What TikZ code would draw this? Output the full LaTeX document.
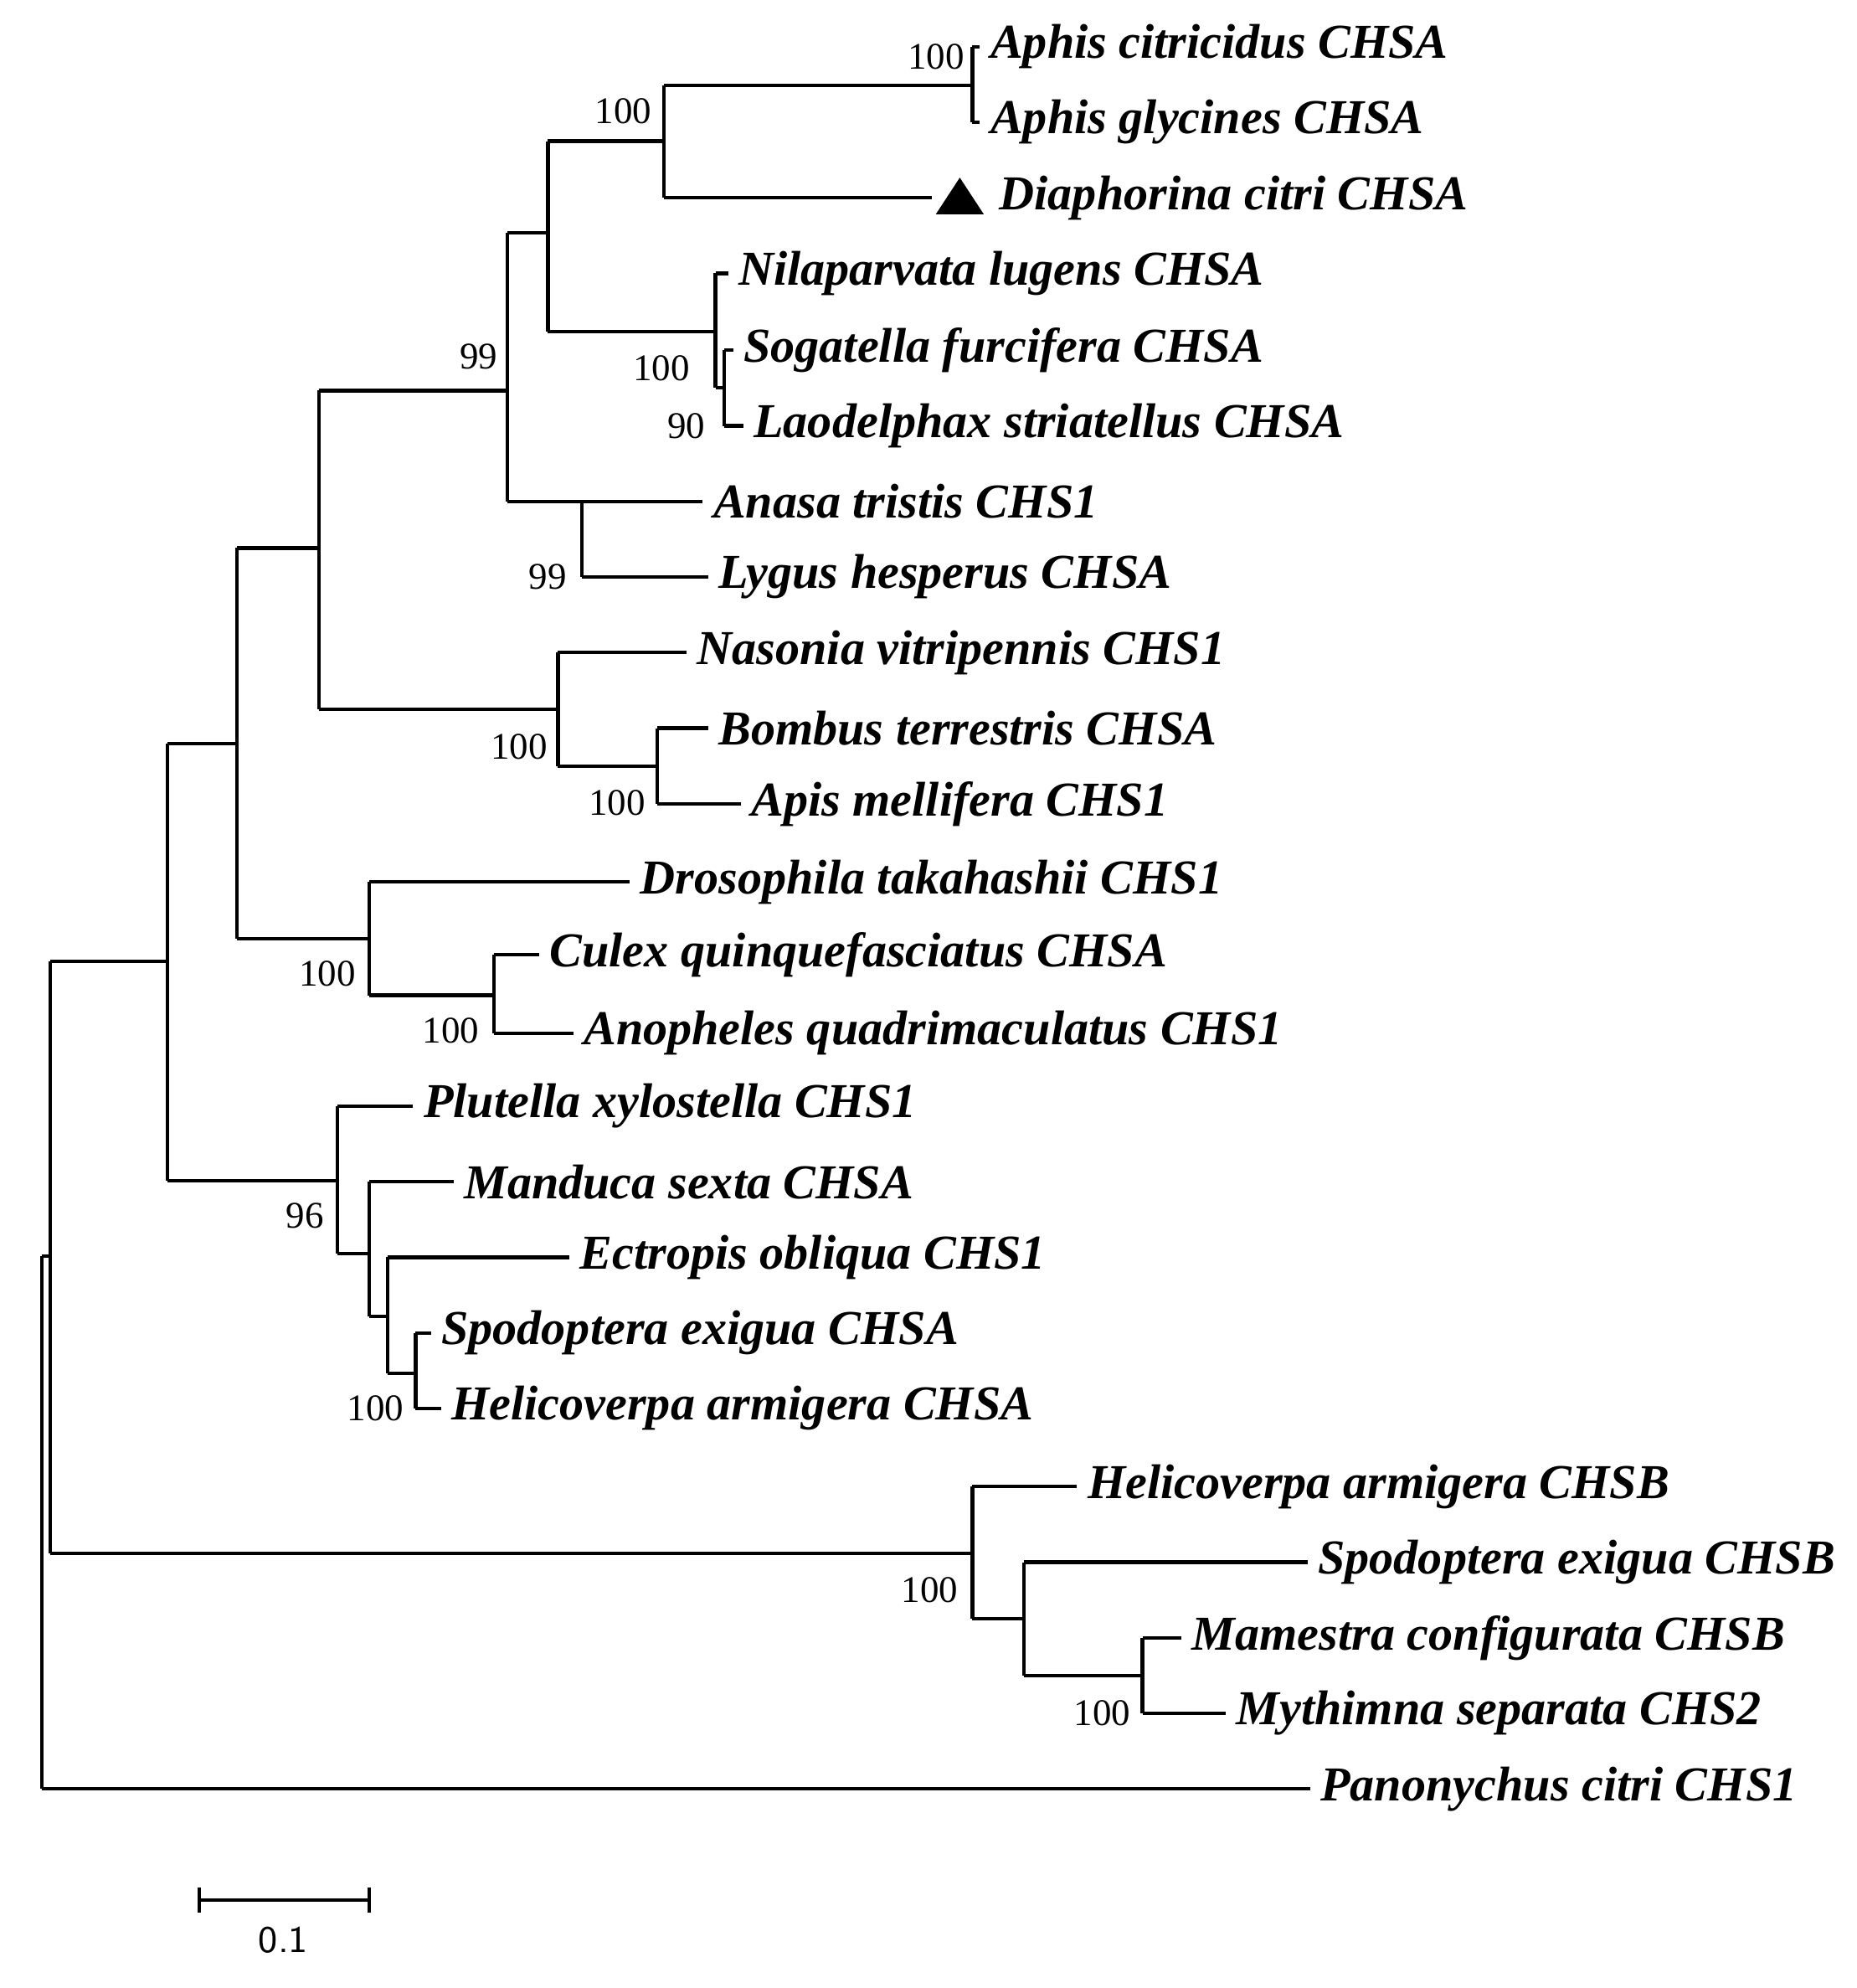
\documentclass[tikz,border=0pt]{standalone}
\usepackage{fontspec}
\setmainfont{Liberation Serif}
\begin{document}
\begin{tikzpicture}[x=0.01cm,y=-0.01cm,line width=0.8pt,
 lf/.style={anchor=west,inner sep=2pt,font=\fontsize{11}{12}\selectfont\bfseries\itshape},
 bs/.style={font=\fontsize{8.5}{10}\selectfont,inner sep=1pt}]
\useasboundingbox (0,0) rectangle (1474,1578);
\newcommand{\leaf}[5]{\coordinate (#1) at (#2,#3); \draw (#4,#3) -- (#1); \node[lf] (#1t) at (#1) {#5};}
% root
\draw (33,997) -- (33,1420);
\leaf{pc}{1040}{1420}{33}{Panonychus citri CHS1}
\draw (33,997) -- (40,997);
\draw (40,763) -- (40,1233);
\draw (40,763) -- (133,763);
\draw (40,1233) -- (772,1233);
% CHSB
\draw (772,1180) -- (772,1285);
\leaf{hab}{855}{1180}{772}{Helicoverpa armigera CHSB}
\draw (772,1285) -- (813,1285);
\draw (813,1240) -- (813,1330);
\leaf{seb}{1038}{1240}{813}{Spodoptera exigua CHSB}
\draw (813,1330) -- (907,1330);
\draw (907,1300) -- (907,1360);
\leaf{mc}{938}{1300}{907}{Mamestra configurata CHSB}
\leaf{ms}{973}{1360}{907}{Mythimna separata CHS2}
% node B
\draw (133,590) -- (133,937);
\draw (133,590) -- (188,590);
\draw (133,937) -- (268,937);
% Lep
\draw (268,878) -- (268,995);
\leaf{px}{328}{878}{268}{Plutella xylostella CHS1}
\draw (268,995) -- (293,995);
\draw (293,938) -- (293,1045);
\leaf{mse}{360}{938}{293}{Manduca sexta CHSA}
\draw (293,1045) -- (308,1045);
\draw (308,998) -- (308,1090);
\leaf{eo}{452}{998}{308}{Ectropis obliqua CHS1}
\draw (308,1090) -- (330,1090);
\draw (330,1058) -- (330,1118);
\leaf{se}{342}{1058}{330}{Spodoptera exigua CHSA}
\leaf{ha}{350}{1118}{330}{Helicoverpa armigera CHSA}
% C
\draw (188,435) -- (188,745);
\draw (188,435) -- (253,435);
\draw (188,745) -- (293,745);
\draw (293,700) -- (293,790);
\leaf{dt}{500}{700}{293}{Drosophila takahashii CHS1}
\draw (293,790) -- (392,790);
\draw (392,758) -- (392,820);
\leaf{cq}{428}{758}{392}{Culex quinquefasciatus CHSA}
\leaf{aq}{455}{820}{392}{Anopheles quadrimaculatus CHS1}
% D
\draw (253,310) -- (253,563);
\draw (253,310) -- (403,310);
\draw (253,563) -- (443,563);
\draw (443,518) -- (443,608);
\leaf{nv}{545}{518}{443}{Nasonia vitripennis CHS1}
\draw (443,608) -- (522,608);
\draw (522,578) -- (522,638);
\leaf{bt}{562}{578}{522}{Bombus terrestris CHSA}
\leaf{am}{588}{638}{522}{Apis mellifera CHS1}
% hemiptera
\draw (403,185) -- (403,398);
\draw (403,185) -- (435,185);
\draw (403,398) -- (462,398);
\draw (462,398) -- (462,458);
\leaf{at}{558}{398}{462}{Anasa tristis CHS1}
\leaf{lh}{562}{458}{462}{Lygus hesperus CHSA}
\draw (435,112) -- (435,263);
\draw (435,112) -- (527,112);
\draw (435,263) -- (568,263);
\draw (568,217) -- (568,308);
\leaf{nl}{578}{217}{568}{Nilaparvata lugens CHSA}
\draw (568,308) -- (575,308);
\draw (575,278) -- (575,338);
\leaf{sf}{582}{278}{575}{Sogatella furcifera CHSA}
\leaf{ls}{590}{338}{575}{Laodelphax striatellus CHSA}
\draw (527,68) -- (527,157);
\draw (527,68) -- (772,68);
\draw (772,37) -- (772,97);
\leaf{ac}{778}{37}{772}{Aphis citricidus CHSA}
\leaf{ag}{778}{97}{772}{Aphis glycines CHSA}
\draw (527,157) -- (740,157);
\fill (762,141) -- (743,170) -- (781,170) -- cycle;
\node[lf] (dc) at (785,157) {Diaphorina citri CHSA};
% bootstrap
\node[bs] at (743,45) {100};
\node[bs] at (495,88) {100};
\node[bs] at (380,283) {99};
\node[bs] at (525,292) {100};
\node[bs] at (545,338) {90};
\node[bs] at (435,458) {99};
\node[bs] at (412,593) {100};
\node[bs] at (490,637) {100};
\node[bs] at (260,773) {100};
\node[bs] at (358,818) {100};
\node[bs] at (242,965) {96};
\node[bs] at (298,1118) {100};
\node[bs] at (738,1262) {100};
\node[bs] at (875,1360) {100};
% scale
\draw (158,1508) -- (293,1508);
\draw (158,1498) -- (158,1518);
\draw (293,1498) -- (293,1518);
\node[font=\fontsize{8.5}{10}\selectfont\sffamily] at (225,1540) {0.1};
\end{tikzpicture}
\end{document}
